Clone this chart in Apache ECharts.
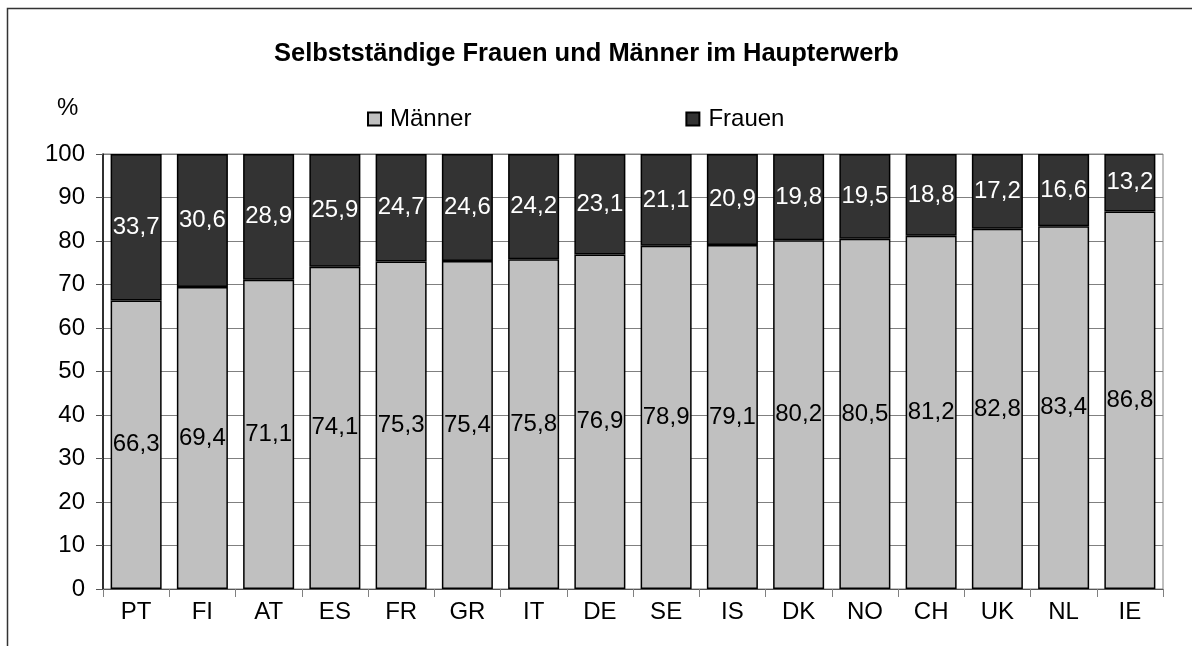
<!DOCTYPE html>
<html><head><meta charset="utf-8">
<script src="https://cdn.jsdelivr.net/npm/echarts@6/dist/echarts.min.js"></script>
<style>html,body{margin:0;padding:0;background:#fff}#c{width:1192px;height:646px}</style>
</head><body><div id="c"></div>
<script>
const categories = ['PT','FI','AT','ES','FR','GR','IT','DE','SE','IS','DK','NO','CH','UK','NL','IE'];
const maenner = [66.3,69.4,71.1,74.1,75.3,75.4,75.8,76.9,78.9,79.1,80.2,80.5,81.2,82.8,83.4,86.8];
const frauen = [33.7,30.6,28.9,25.9,24.7,24.6,24.2,23.1,21.1,20.9,19.8,19.5,18.8,17.2,16.6,13.2];
const yTicks = {min:0, max:100, interval:10};
const titleText = 'Selbstständige Frauen und Männer im Haupterwerb';
const FONT = 'Liberation Sans, Arial, sans-serif';
const fmt = p => String(p.value).replace('.', ',');
const chart = echarts.init(document.getElementById('c'), null, {renderer:'canvas'});
chart.setOption({
  animation:false,
  backgroundColor:'#fff',
  textStyle:{fontFamily:FONT},
  title:{text:titleText, left:274, top:41, padding:0,
    textStyle:{fontFamily:FONT, fontSize:25.5, fontWeight:'bold', color:'#000'}},
  graphic:[
    {type:'rect', shape:{x:7.5,y:8.5,width:1300,height:800}, style:{fill:'none', stroke:'#333', lineWidth:1.5}, silent:true},
    {type:'text', left:57, top:96, style:{text:'%', fontFamily:FONT, fontSize:24, fill:'#000'}}
  ],
  legend:{left:367, top:107, padding:0, itemGap:214, itemWidth:13, itemHeight:13, icon:'rect',
    textStyle:{fontFamily:FONT, fontSize:24, color:'#000', padding:[0,0,0,4]},
    data:['Männer','Frauen']},
  grid:{left:103, right:29, top:154, bottom:57, show:true, borderColor:'#808080', borderWidth:1},
  xAxis:{type:'category', data:categories,
    axisLine:{lineStyle:{color:'#555', width:1}},
    axisTick:{show:true, length:8, lineStyle:{color:'#808080'}},
    axisLabel:{fontFamily:FONT, fontSize:24, color:'#000', margin:11}},
  yAxis:{type:'value', min:yTicks.min, max:yTicks.max, interval:yTicks.interval,
    axisLine:{show:true, lineStyle:{color:'#000', width:1.5}},
    axisTick:{show:true, length:7, lineStyle:{color:'#555'}},
    splitLine:{show:true, lineStyle:{color:'#808080', width:1}},
    axisLabel:{fontFamily:FONT, fontSize:24, color:'#000', margin:18}},
  series:[
    {name:'Männer', type:'bar', stack:'s', data:maenner, barWidth:'77%',
      itemStyle:{color:'#C0C0C0', borderColor:'#000', borderWidth:1.5},
      label:{show:true, position:'inside', formatter:fmt, fontFamily:FONT, fontSize:24, color:'#000'}},
    {name:'Frauen', type:'bar', stack:'s', data:frauen, barWidth:'77%',
      itemStyle:{color:'#333333', borderColor:'#000', borderWidth:1.5},
      label:{show:true, position:'inside', formatter:fmt, fontFamily:FONT, fontSize:24, color:'#fff'}}
  ]
});
</script></body></html>
